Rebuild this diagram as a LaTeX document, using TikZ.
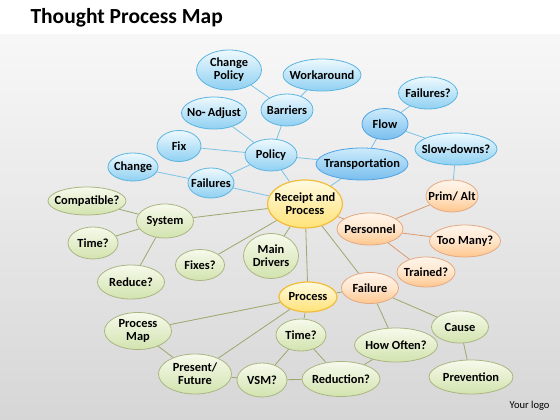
\documentclass[tikz,border=0pt]{standalone}
\usepackage{fontspec}
\setmainfont{Carlito}
\usetikzlibrary{shapes.geometric,backgrounds}
\definecolor{bE}{HTML}{5AB4E0}
\definecolor{gE}{HTML}{9CA86C}
\definecolor{oE}{HTML}{DE9A6C}
\definecolor{bT}{HTML}{EEF9FE}
\definecolor{bB}{HTML}{8FD0F2}
\definecolor{dT}{HTML}{CDEBFB}
\definecolor{dB}{HTML}{78BEEE}
\definecolor{yT}{HTML}{FFFBE2}
\definecolor{yB}{HTML}{FFE277}
\definecolor{yD}{HTML}{F2BC3C}
\definecolor{gT}{HTML}{F6FAEC}
\definecolor{gB}{HTML}{D2E3AE}
\tikzset{
  bub/.style={ellipse,inner sep=-15pt,align=center,font=\fontsize{12.4}{13}\selectfont\bfseries,line width=0.8pt},
  blu/.style={bub,draw=bE,top color=bT,bottom color=bB},
  blud/.style={bub,draw=bE!90!blue,top color=dT,bottom color=dB},
  grn/.style={bub,draw=gE!85!white,top color=gT,bottom color=gB},
  org/.style={bub,draw=oE!85!white,top color=orange!8!white,bottom color=orange!45!white,middle color=orange!20!white},
  yel/.style={bub,draw=yD,top color=yT,bottom color=yB,line width=1.2pt},
  eb/.style={draw=bE!80!white,line width=0.8pt},
  eg/.style={draw=gE,line width=0.8pt},
  eo/.style={draw=oE,line width=0.8pt}
}
\begin{document}
\begin{tikzpicture}[x=1pt,y=-1pt]
\useasboundingbox (0,0) rectangle (560,420);
% nodes
\node[blu,minimum width=65,minimum height=40] (chp) at (229,70) {Change\\Policy};
\node[blu,minimum width=78,minimum height=32] (wor) at (322,75) {Workaround};
\node[blu,minimum width=52,minimum height=32] (bar) at (287,110) {Barriers};
\node[blu,minimum width=65,minimum height=32] (noa) at (214,113) {No-\,Adjust};
\node[blu,minimum width=44,minimum height=31] (fix) at (179,146) {Fix};
\node[blu,minimum width=52,minimum height=32] (pol) at (271,155) {Policy};
\node[blu,minimum width=50,minimum height=28] (chg) at (133,167) {Change};
\node[blu,minimum width=46,minimum height=30] (fai) at (211,183) {Failures};
\node[blud,minimum width=92,minimum height=32] (tra) at (362,164) {Transportation};
\node[blud,minimum width=46,minimum height=31] (flo) at (385,124) {Flow};
\node[blu,minimum width=59,minimum height=32] (faq) at (428,93) {Failures?};
\node[blu,minimum width=82,minimum height=32] (slo) at (456,149) {Slow-downs?};
\node[yel,minimum width=75,minimum height=48] (rec) at (305,204) {Receipt and\\Process};
\node[org,minimum width=52,minimum height=32] (pri) at (452,196) {Prim/ Alt};
\node[org,minimum width=66,minimum height=32] (per) at (370,229) {Personnel};
\node[org,minimum width=71,minimum height=32] (too) at (465,241) {Too Many?};
\node[org,minimum width=58,minimum height=30] (trn) at (426,272) {Trained?};
\node[org,minimum width=57,minimum height=31] (flr) at (370,288) {Failure};
\node[yel,minimum width=58,minimum height=30] (pro) at (308,297) {Process};
\node[grn,minimum width=57,minimum height=32] (cau) at (460,327) {Cause};
\node[grn,minimum width=83,minimum height=34] (how) at (396,345) {How Often?};
\node[grn,minimum width=84,minimum height=34] (pre) at (471,377) {Prevention};
\node[grn,minimum width=50,minimum height=32] (tim) at (301,335) {Time?};
\node[grn,minimum width=78,minimum height=35] (red) at (341,379) {Reduction?};
\node[grn,minimum width=50,minimum height=34] (vsm) at (262,380) {VSM?};
\node[grn,minimum width=73,minimum height=40] (prf) at (195,374) {Present/\\Future};
\node[grn,minimum width=67,minimum height=37] (pmp) at (138,331) {Process\\Map};
\node[grn,minimum width=67,minimum height=34] (rdc) at (131,282) {Reduce?};
\node[grn,minimum width=50,minimum height=32] (tml) at (93,243) {Time?};
\node[grn,minimum width=57,minimum height=34] (sys) at (165,221) {System};
\node[grn,minimum width=78,minimum height=28] (com) at (87,201) {Compatible?};
\node[grn,minimum width=49,minimum height=31] (fxs) at (200,265) {Fixes?};
\node[grn,minimum width=55,minimum height=45] (mdr) at (271,256) {Main\\Drivers};
\node[font=\fontsize{21.5}{24}\selectfont\bfseries,anchor=west] (ttl) at (27,18) {Thought Process Map};
\node[font=\fontsize{10.5}{12}\selectfont,anchor=east] (logo) at (553,406) {Your logo};
\begin{scope}[on background layer]
\fill[white] (0,0) rectangle (560,35);
\shade[top color=black!3,bottom color=black!16] (0,35) rectangle (560,420);
\draw[eb] (chp) -- (bar);
\draw[eb] (wor) -- (bar);
\draw[eb] (bar) -- (pol);
\draw[eb] (noa) -- (pol);
\draw[eb] (fix) -- (pol);
\draw[eb] (pol) -- (fai);
\draw[eb] (pol) -- (rec);
\draw[eb] (pol) -- (tra);
\draw[eb] (chg) -- (fai);
\draw[eb] (fai) -- (rec);
\draw[eb] (tra) -- (rec);
\draw[eb] (tra) -- (flo);
\draw[eb] (flo) -- (faq);
\draw[eb] (flo) -- (slo);
\draw[eb] (slo) -- (pri);
\draw[eo] (pri) -- (per);
\draw[eo] (per) -- (too);
\draw[eo] (per) -- (trn);
\draw[eo] (rec) -- (per);
\draw[eg] (rec) -- (sys);
\draw[eg] (sys) -- (com);
\draw[eg] (sys) -- (tml);
\draw[eg] (sys) -- (rdc);
\draw[eg] (rec) -- (fxs);
\draw[eg] (rec) -- (mdr);
\draw[eg] (rec) -- (pro);
\draw[eg] (rec) -- (flr);
\draw[eg] (pro) -- (flr);
\draw[eg] (flr) -- (how);
\draw[eg] (flr) -- (cau);
\draw[eg] (cau) -- (pre);
\draw[eg] (how) -- (red);
\draw[eg] (pro) -- (pmp);
\draw[eg] (pro) -- (prf);
\draw[eg] (pro) -- (tim);
\draw[eg] (tim) -- (vsm);
\draw[eg] (tim) -- (red);
\draw[eg] (prf) -- (vsm);
\draw[eg] (vsm) -- (red);
\draw[eg] (pmp) -- (prf);
\end{scope}
\end{tikzpicture}
\end{document}
